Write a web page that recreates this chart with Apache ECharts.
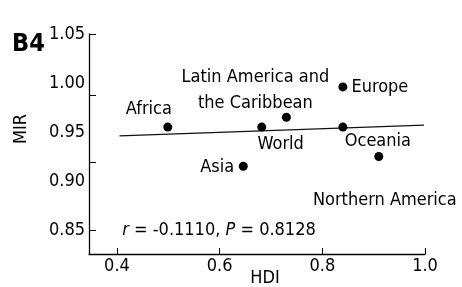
<!DOCTYPE html>
<html>
<head>
<meta charset="utf-8">
<script src="https://cdn.jsdelivr.net/npm/echarts@6/dist/echarts.min.js"></script>
<style>
html,body{margin:0;padding:0;background:#fff;}
#chart{width:462px;height:287px;}
</style>
</head>
<body>
<div id="chart"></div>
<script>
// ---- data ----
const regions = ['Africa', 'Latin America and\nthe Caribbean', 'Europe', 'World', 'Oceania', 'Asia', 'Northern America'];
const hdi = [0.499, 0.730, 0.840, 0.682, 0.840, 0.646, 0.910];
const mir = [0.955, 0.965, 0.996, 0.955, 0.955, 0.915, 0.925];
const fitX = [0.405, 0.998];
const fitY = [0.946, 0.957];
const xTickLabels = [0.4, 0.6, 0.8, 1.0];
const yTickLabels = [0.85, 0.90, 0.95, 1.00, 1.05];
const yTickMarks = [0.85, 0.919, 0.987, 1.05];
const statsText = ['r', ' = -0.1110, ', 'P', ' = 0.8128'];

// ---- layout (label offsets from point centre, px) ----
const labelOffsets = [[-19, -18], [-31, -27], [37, 0], [19, 17], [35, 14], [-26, 1], [6, 44]];

const FONT = "'DejaVu Sans Condensed', 'DejaVu Sans', sans-serif";
const FS = 18;
const INK = '#000';

const chart = echarts.init(document.getElementById('chart'), null, {renderer: 'canvas'});

const points = regions.map((n, i) => ({
  value: [hdi[i], mir[i]],
  name: n,
  label: {offset: labelOffsets[i]}
}));

chart.setOption({
  animation: false,
  backgroundColor: '#fff',
  grid: {left: 89, right: 37, top: 34, bottom: 33, outerBoundsMode: 'none'},
  xAxis: {
    type: 'value', min: 0.3455, max: 1.0,
    axisLine: {show: true, lineStyle: {color: INK, width: 1.3}},
    axisTick: {show: true, inside: true, length: 6, customValues: xTickLabels, lineStyle: {color: INK, width: 1}},
    axisLabel: {customValues: xTickLabels, formatter: v => v.toFixed(1), color: INK, fontFamily: FONT, fontSize: FS, margin: 3},
    splitLine: {show: false}
  },
  yAxis: {
    type: 'value', min: 0.8255, max: 1.05,
    axisLine: {show: true, lineStyle: {color: INK, width: 1.3}},
    axisTick: {show: true, inside: true, length: 7, customValues: yTickMarks, lineStyle: {color: INK, width: 1}},
    axisLabel: {customValues: yTickLabels, formatter: v => v.toFixed(2), color: INK, fontFamily: FONT, fontSize: FS, margin: 4},
    splitLine: {show: false}
  },
  series: [
    {
      type: 'line',
      data: fitX.map((x, i) => [x, fitY[i]]),
      showSymbol: false,
      lineStyle: {color: '#111', width: 1.2},
      z: 1
    },
    {
      type: 'scatter',
      data: points,
      symbol: 'circle',
      symbolSize: 9,
      itemStyle: {color: '#000', opacity: 1},
      label: {
        show: true, position: 'inside',
        formatter: p => p.name,
        color: INK, fontFamily: FONT, fontSize: FS, opacity: 1,
        textBorderWidth: 0, textBorderColor: 'transparent',
        align: 'center', verticalAlign: 'middle', lineHeight: 26
      },
      emphasis: {disabled: true},
      z: 2
    }
  ],
  graphic: [
    {type: 'text', left: 12, top: 32, style: {text: 'B4', font: "bold 25px " + FONT, fill: INK}},
    {type: 'text', x: 21, y: 129, rotation: Math.PI / 2,
     style: {text: 'MIR', font: FS + "px " + FONT, fill: INK, align: 'center', verticalAlign: 'middle'}},
    {type: 'text', x: 265, y: 278, style: {text: 'HDI', font: FS + "px " + FONT, fill: INK, align: 'center', verticalAlign: 'middle'}},
    {type: 'text', x: 219, y: 230,
     style: {
       text: '{i|' + statsText[0] + '}' + statsText[1] + '{i|' + statsText[2] + '}' + statsText[3],
       font: FS + "px " + FONT, fill: INK, align: 'center', verticalAlign: 'middle',
       rich: {i: {fontStyle: 'italic', fontFamily: FONT, fontSize: FS, fill: INK}}
     }}
  ]
});
</script>
</body>
</html>
